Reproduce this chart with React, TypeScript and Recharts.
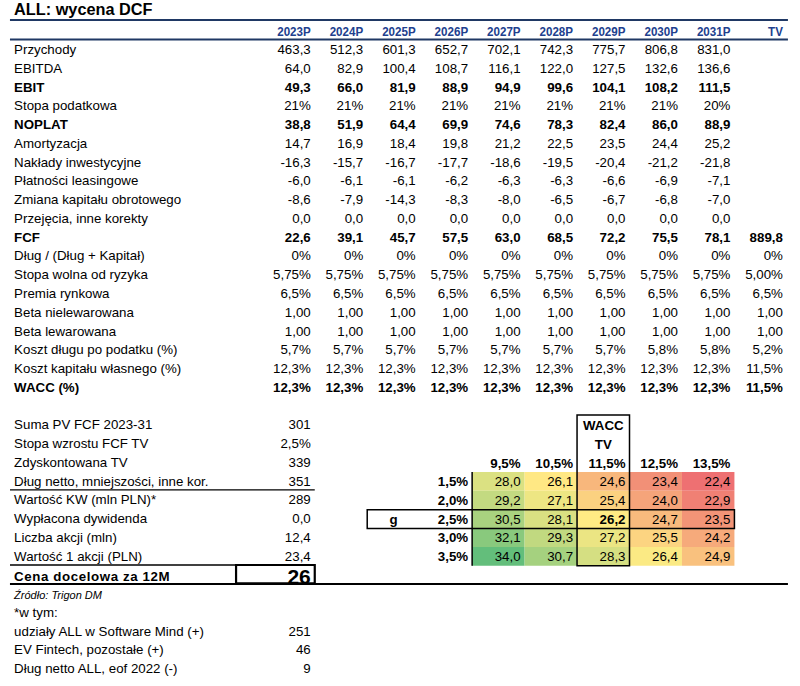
import { ScatterChart, Scatter, XAxis, YAxis, ReferenceLine, ReferenceArea } from 'recharts'

const FONT = '"Liberation Sans", Arial, sans-serif'
const NAVY = '#1F3864'
const HEAD_BLUE = '#21408E'

// column index: 0 = 2023P ... 9 = TV, labels sit at LABEL_X
const LABEL_X = -5.75
const LEFT_EDGE = -5.81
const RIGHT_EDGE = 9.02

const years = ['2023P', '2024P', '2025P', '2026P', '2027P', '2028P', '2029P', '2030P', '2031P', 'TV']

type Row = { label: string; values: (number | null)[]; dec: number; pct?: boolean; bold?: boolean }

const przychody = [463.3, 512.3, 601.3, 652.7, 702.1, 742.3, 775.7, 806.8, 831.0, null]
const ebitda = [64.0, 82.9, 100.4, 108.7, 116.1, 122.0, 127.5, 132.6, 136.6, null]
const ebit = [49.3, 66.0, 81.9, 88.9, 94.9, 99.6, 104.1, 108.2, 111.5, null]
const stopaPodatkowa = [21, 21, 21, 21, 21, 21, 21, 21, 20, null]
const noplat = [38.8, 51.9, 64.4, 69.9, 74.6, 78.3, 82.4, 86.0, 88.9, null]
const amortyzacja = [14.7, 16.9, 18.4, 19.8, 21.2, 22.5, 23.5, 24.4, 25.2, null]
const naklady = [-16.3, -15.7, -16.7, -17.7, -18.6, -19.5, -20.4, -21.2, -21.8, null]
const leasing = [-6.0, -6.1, -6.1, -6.2, -6.3, -6.3, -6.6, -6.9, -7.1, null]
const kapitalObrotowy = [-8.6, -7.9, -14.3, -8.3, -8.0, -6.5, -6.7, -6.8, -7.0, null]
const przejecia = [0, 0, 0, 0, 0, 0, 0, 0, 0, null]
const fcf = [22.6, 39.1, 45.7, 57.5, 63.0, 68.5, 72.2, 75.5, 78.1, 889.8]
const dlugUdzial = [0, 0, 0, 0, 0, 0, 0, 0, 0, 0]
const stopaWolna = [5.75, 5.75, 5.75, 5.75, 5.75, 5.75, 5.75, 5.75, 5.75, 5.0]
const premia = [6.5, 6.5, 6.5, 6.5, 6.5, 6.5, 6.5, 6.5, 6.5, 6.5]
const betaNielew = [1, 1, 1, 1, 1, 1, 1, 1, 1, 1]
const betaLew = [1, 1, 1, 1, 1, 1, 1, 1, 1, 1]
const kosztDlugu = [5.7, 5.7, 5.7, 5.7, 5.7, 5.7, 5.7, 5.8, 5.8, 5.2]
const kosztKapitalu = [12.3, 12.3, 12.3, 12.3, 12.3, 12.3, 12.3, 12.3, 12.3, 11.5]
const wacc = [12.3, 12.3, 12.3, 12.3, 12.3, 12.3, 12.3, 12.3, 12.3, 11.5]

const rows: Row[] = [
  { label: 'Przychody', values: przychody, dec: 1 },
  { label: 'EBITDA', values: ebitda, dec: 1 },
  { label: 'EBIT', values: ebit, dec: 1, bold: true },
  { label: 'Stopa podatkowa', values: stopaPodatkowa, dec: 0, pct: true },
  { label: 'NOPLAT', values: noplat, dec: 1, bold: true },
  { label: 'Amortyzacja', values: amortyzacja, dec: 1 },
  { label: 'Nakłady inwestycyjne', values: naklady, dec: 1 },
  { label: 'Płatności leasingowe', values: leasing, dec: 1 },
  { label: 'Zmiana kapitału obrotowego', values: kapitalObrotowy, dec: 1 },
  { label: 'Przejęcia, inne korekty', values: przejecia, dec: 1 },
  { label: 'FCF', values: fcf, dec: 1, bold: true },
  { label: 'Dług / (Dług + Kapitał)', values: dlugUdzial, dec: 0, pct: true },
  { label: 'Stopa wolna od ryzyka', values: stopaWolna, dec: 2, pct: true },
  { label: 'Premia rynkowa', values: premia, dec: 1, pct: true },
  { label: 'Beta nielewarowana', values: betaNielew, dec: 2 },
  { label: 'Beta lewarowana', values: betaLew, dec: 2 },
  { label: 'Koszt długu po podatku (%)', values: kosztDlugu, dec: 1, pct: true },
  { label: 'Koszt kapitału własnego (%)', values: kosztKapitalu, dec: 1, pct: true },
  { label: 'WACC (%)', values: wacc, dec: 1, pct: true, bold: true },
]

const summaryLabels = [
  'Suma PV FCF 2023-31',
  'Stopa wzrostu FCF TV',
  'Zdyskontowana TV',
  'Dług netto, mniejszości, inne kor.',
  'Wartość KW (mln PLN)*',
  'Wypłacona dywidenda',
  'Liczba akcji (mln)',
  'Wartość 1 akcji (PLN)',
]
const summaryValues = [301, 2.5, 339, 351, 289, 0.0, 12.4, 23.4]
const summaryDec = [0, 1, 0, 0, 0, 1, 1, 1]
const summaryPct = [false, true, false, false, false, false, false, false]
const targetPrice = 26

const breakdownLabels = ['udziały ALL w Software Mind (+)', 'EV Fintech, pozostałe (+)', 'Dług netto ALL, eof 2022 (-)']
const breakdownValues = [251, 46, 9]

const sensWacc = [9.5, 10.5, 11.5, 12.5, 13.5]
const sensGrowth = [1.5, 2.0, 2.5, 3.0, 3.5]
const sensMatrix = [
  [28.0, 26.1, 24.6, 23.4, 22.4],
  [29.2, 27.1, 25.4, 24.0, 22.9],
  [30.5, 28.1, 26.2, 24.7, 23.5],
  [32.1, 29.3, 27.2, 25.5, 24.2],
  [34.0, 30.7, 28.3, 26.4, 24.9],
]

const fmt = (v: number, dec: number, pct?: boolean) => v.toFixed(dec).replace('.', ',') + (pct ? '%' : '')

type CellDatum = {
  x: number
  y: number
  text: string
  anchor?: 'start' | 'middle' | 'end'
  bold?: boolean
  italic?: boolean
  size?: number
  color?: string
  spacing?: number
  squeeze?: number
}

const HEADER_Y = -0.97
const SUM_ROW = 20
const SENS_ROW = 23
const SENS_COL = 4
const FS = 13.3

const cells: CellDatum[] = [
  { x: LABEL_X, y: -2.15, text: 'ALL: wycena DCF', anchor: 'start', bold: true, size: 16.3 },
  ...years.map((yr, i) => ({ x: i, y: HEADER_Y, text: yr, bold: true, color: HEAD_BLUE, size: 13.5, squeeze: 0.86 })),
  ...rows.flatMap((row, r) => [
    { x: LABEL_X, y: r, text: row.label, anchor: 'start' as const, bold: row.bold },
    ...row.values.flatMap((v, i) => (v == null ? [] : [{ x: i, y: r, text: fmt(v, row.dec, row.pct), bold: row.bold }])),
  ]),
  ...summaryLabels.flatMap((l, k) => [
    { x: LABEL_X, y: SUM_ROW + k, text: l, anchor: 'start' as const },
    { x: 0, y: SUM_ROW + k, text: fmt(summaryValues[k], summaryDec[k], summaryPct[k]) },
  ]),
  { x: LABEL_X, y: 28.1, text: 'Cena docelowa za 12M', anchor: 'start', bold: true, spacing: 0.6 },
  { x: 0, y: 28.1, text: String(targetPrice), bold: true, size: 21 },
  { x: LABEL_X, y: 29.09, text: 'Źródło: Trigon DM', anchor: 'start', italic: true, size: 11 },
  { x: LABEL_X, y: 30.03, text: '*w tym:', anchor: 'start' },
  ...breakdownLabels.flatMap((l, k) => [
    { x: LABEL_X, y: 31 + k, text: l, anchor: 'start' as const },
    { x: 0, y: 31 + k, text: String(breakdownValues[k]) },
  ]),
  { x: 5.5, y: 20.03, text: 'WACC', anchor: 'middle', bold: true },
  { x: 5.5, y: 21.03, text: 'TV', anchor: 'middle', bold: true },
  ...sensWacc.map((w, j) => ({ x: SENS_COL + j, y: 22.05, text: fmt(w, 1, true), bold: true })),
  { x: 1.5, y: 25.05, text: 'g', anchor: 'middle', bold: true },
  ...sensGrowth.flatMap((g, k) => [
    { x: 3, y: SENS_ROW + k + 0.03, text: fmt(g, 1, true), bold: true },
    ...sensMatrix[k].map((v, j) => ({ x: SENS_COL + j, y: SENS_ROW + k + 0.03, text: fmt(v, 1), bold: k === 2 && j === 2 })),
  ]),
]

// Excel-like 3-colour scale: low = red, median = yellow, high = green
const flat = sensMatrix.flat().sort((a, b) => a - b)
const vMin = flat[0]
const vMax = flat[flat.length - 1]
const vMid = flat[Math.floor(flat.length / 2)]
const mix = (a: number[], b: number[], t: number) =>
  `rgb(${a.map((c, i) => Math.round(c + (b[i] - c) * t)).join(',')})`
const RED = [238, 112, 114]
const YEL = [255, 235, 132]
const GRN = [99, 190, 123]
const heatColor = (v: number) =>
  v <= vMid ? mix(RED, YEL, (v - vMin) / (vMid - vMin)) : mix(YEL, GRN, (v - vMid) / (vMax - vMid))

const TextCell = (p: any) => {
  const d: CellDatum = p.payload
  const anchor = d.anchor ?? 'end'
  const dx = anchor === 'end' ? -4 : anchor === 'start' ? 1 : 0
  const sx = d.squeeze ?? 1
  return (
    <text
      transform={`translate(${p.cx + dx} ${p.cy}) scale(${sx} 1)`}
      x={0}
      y={0}
      dy="0.36em"
      textAnchor={anchor}
      fontSize={d.size ?? FS}
      fontWeight={d.bold ? 700 : 400}
      fontStyle={d.italic ? 'italic' : 'normal'}
      fontFamily={FONT}
      letterSpacing={d.spacing ?? 0}
      fill={d.color ?? '#000'}
    >
      {d.text}
    </text>
  )
}

export default function App() {
  return (
    <div style={{ position: 'absolute', left: 0, top: 0, background: '#fff' }}>
      <ScatterChart width={800} height={686} margin={{ top: 0, right: 0, bottom: 0, left: 0 }}>
        <XAxis type="number" dataKey="x" domain={[-6, 9.25]} hide allowDataOverflow />
        <YAxis type="number" dataKey="y" domain={[-2.63, 33.94]} reversed hide allowDataOverflow />

        {sensMatrix.flatMap((rowVals, k) =>
          rowVals.map((v, j) => (
            <ReferenceArea
              key={`h${k}-${j}`}
              x1={SENS_COL + j - 1}
              x2={SENS_COL + j}
              y1={SENS_ROW + k - 0.47}
              y2={SENS_ROW + k + 0.53}
              fill={heatColor(v)}
              fillOpacity={1}
              stroke="none"
              ifOverflow="visible"
            />
          ))
        )}

        <ReferenceLine segment={[{ x: LEFT_EDGE, y: -1.56 }, { x: RIGHT_EDGE, y: -1.56 }]} stroke={NAVY} strokeWidth={2} ifOverflow="visible" />
        <ReferenceLine segment={[{ x: LEFT_EDGE, y: -0.53 }, { x: RIGHT_EDGE, y: -0.53 }]} stroke={NAVY} strokeWidth={2} ifOverflow="visible" />
        <ReferenceLine segment={[{ x: LEFT_EDGE, y: 23.49 }, { x: 0, y: 23.49 }]} stroke="#000" strokeWidth={1.2} ifOverflow="visible" />
        <ReferenceLine segment={[{ x: LEFT_EDGE, y: 27.49 }, { x: -1.5, y: 27.49 }]} stroke="#000" strokeWidth={1.5} ifOverflow="visible" />
        <ReferenceLine segment={[{ x: LEFT_EDGE, y: 28.5 }, { x: RIGHT_EDGE, y: 28.5 }]} stroke="#000" strokeWidth={2} ifOverflow="visible" />
        <ReferenceLine segment={[{ x: 3, y: SENS_ROW - 0.47 }, { x: 3, y: SENS_ROW + 4.53 }]} stroke="#000" strokeWidth={1.5} ifOverflow="visible" />

        <ReferenceArea x1={-1.5} x2={0} y1={27.49} y2={28.47} fill="none" stroke="#000" strokeWidth={2.2} ifOverflow="visible" />
        <ReferenceArea x1={5} x2={6} y1={19.49} y2={SENS_ROW + 4.53} fill="none" stroke="#000" strokeWidth={1.5} ifOverflow="visible" />
        <ReferenceArea x1={1} x2={8} y1={24.55} y2={25.55} fill="none" stroke="#000" strokeWidth={1.5} ifOverflow="visible" />

        <Scatter data={cells} shape={TextCell} isAnimationActive={false} />
      </ScatterChart>
    </div>
  )
}
